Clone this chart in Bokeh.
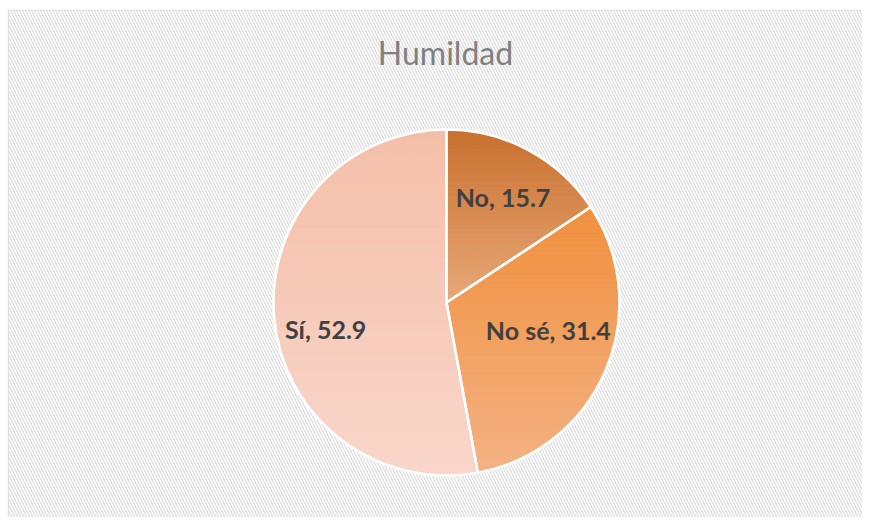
import numpy as np
from bokeh.plotting import figure
from bokeh.models import Range1d, BoxAnnotation, ColumnDataSource
from bokeh.core.properties import value
from bokeh.embed import file_html
from bokeh.resources import INLINE

# ---- data ----
title_text = "Humildad"
categories = ["No", "No sé", "Sí"]
values = [15.7, 31.4, 52.9]
top_colors = ["#c8702e", "#f0903e", "#f4bfa8"]
bottom_colors = ["#e8a878", "#f4b283", "#f9d6ca"]

# ---- layout ----
W, H = 862, 517
BL, BT = 8, 10
FW, FH = W - BL, H - BT
cx, cy, R = 438.0, 215.0, 173.0
label_r = 0.69
label_off = [(0, 0), (-8, 19), (-2, -16)]

p = figure(width=W, height=H, output_backend="svg", toolbar_location=None,
           x_range=Range1d(0, FW), y_range=Range1d(0, FH),
           x_axis_type=None, y_axis_type=None,
           min_border_left=BL, min_border_right=0, min_border_bottom=0, min_border_top=BT,
           background_fill_color="white", border_fill_color="white")
p.grid.visible = False
p.outline_line_color = "#d9d9d9"
p.outline_line_width = 1.5

p.add_layout(BoxAnnotation(fill_color="white", fill_alpha=1.0, line_alpha=0,
                           hatch_pattern="left_diagonal_line", hatch_color="#e0e0e0",
                           hatch_weight=1.4, hatch_scale=6, level="underlay"))


def hex2rgb(h):
    h = h.lstrip("#")
    return np.array([int(h[i:i + 2], 16) for i in (0, 2, 4)], dtype=float)


def rgb2hex(c):
    return "#%02x%02x%02x" % tuple(int(round(v)) for v in c)


def clip(poly, y0, keep_above):
    out = []
    n = len(poly)
    for i in range(n):
        cur, prev = poly[i], poly[i - 1]
        cin = cur[1] >= y0 if keep_above else cur[1] <= y0
        pin = prev[1] >= y0 if keep_above else prev[1] <= y0
        if cin != pin:
            t = (y0 - prev[1]) / (cur[1] - prev[1])
            out.append((prev[0] + t * (cur[0] - prev[0]), y0))
        if cin:
            out.append(cur)
    return out


total = sum(values)
fr = np.array(values) / total
cum = np.concatenate([[0], np.cumsum(fr)])
starts = np.pi / 2 - 2 * np.pi * cum[:-1]
ends = np.pi / 2 - 2 * np.pi * cum[1:]

xs, ys, cols = [], [], []
NB = 70
for i in range(len(values)):
    a = np.linspace(starts[i], ends[i], 300)
    poly = [(cx, cy)] + [(cx + R * np.cos(t), cy + R * np.sin(t)) for t in a]
    ymin = min(q[1] for q in poly)
    ymax = max(q[1] for q in poly)
    c_top, c_bot = hex2rgb(top_colors[i]), hex2rgb(bottom_colors[i])
    edges = np.linspace(ymax, ymin, NB + 1)
    for k in range(NB):
        band = clip(poly, edges[k + 1], True)
        band = clip(band, edges[k], False)
        if len(band) < 3:
            continue
        t = (k + 0.5) / NB
        xs.append([q[0] for q in band])
        ys.append([q[1] for q in band])
        cols.append(rgb2hex(c_top * (1 - t) + c_bot * t))

p.patches(xs=xs, ys=ys, fill_color=cols, line_color=cols, line_width=1)

src = ColumnDataSource(dict(start=ends, end=starts))
p.wedge(x=cx, y=cy, radius=R, start_angle="start", end_angle="end", source=src,
        fill_alpha=0, line_color="white", line_width=2.5)

mids = (starts + ends) / 2
lx = [cx + label_r * R * np.cos(m) + label_off[i][0] for i, m in enumerate(mids)]
ly = [cy + label_r * R * np.sin(m) + label_off[i][1] for i, m in enumerate(mids)]
labels = ["%s, %s" % (c, v) for c, v in zip(categories, values)]
p.text(x=lx, y=ly, text=labels, text_align="center", text_baseline="middle",
       text_font=value("Lato"), text_font_style="bold", text_font_size="25px",
       text_color="#404040")

p.text(x=[437], y=[465], text=[title_text], text_align="center",
       text_baseline="middle", text_font=value("Lato"), text_font_size="32px",
       text_color="#808080")

open("out.html", "w").write(file_html(p, INLINE))
